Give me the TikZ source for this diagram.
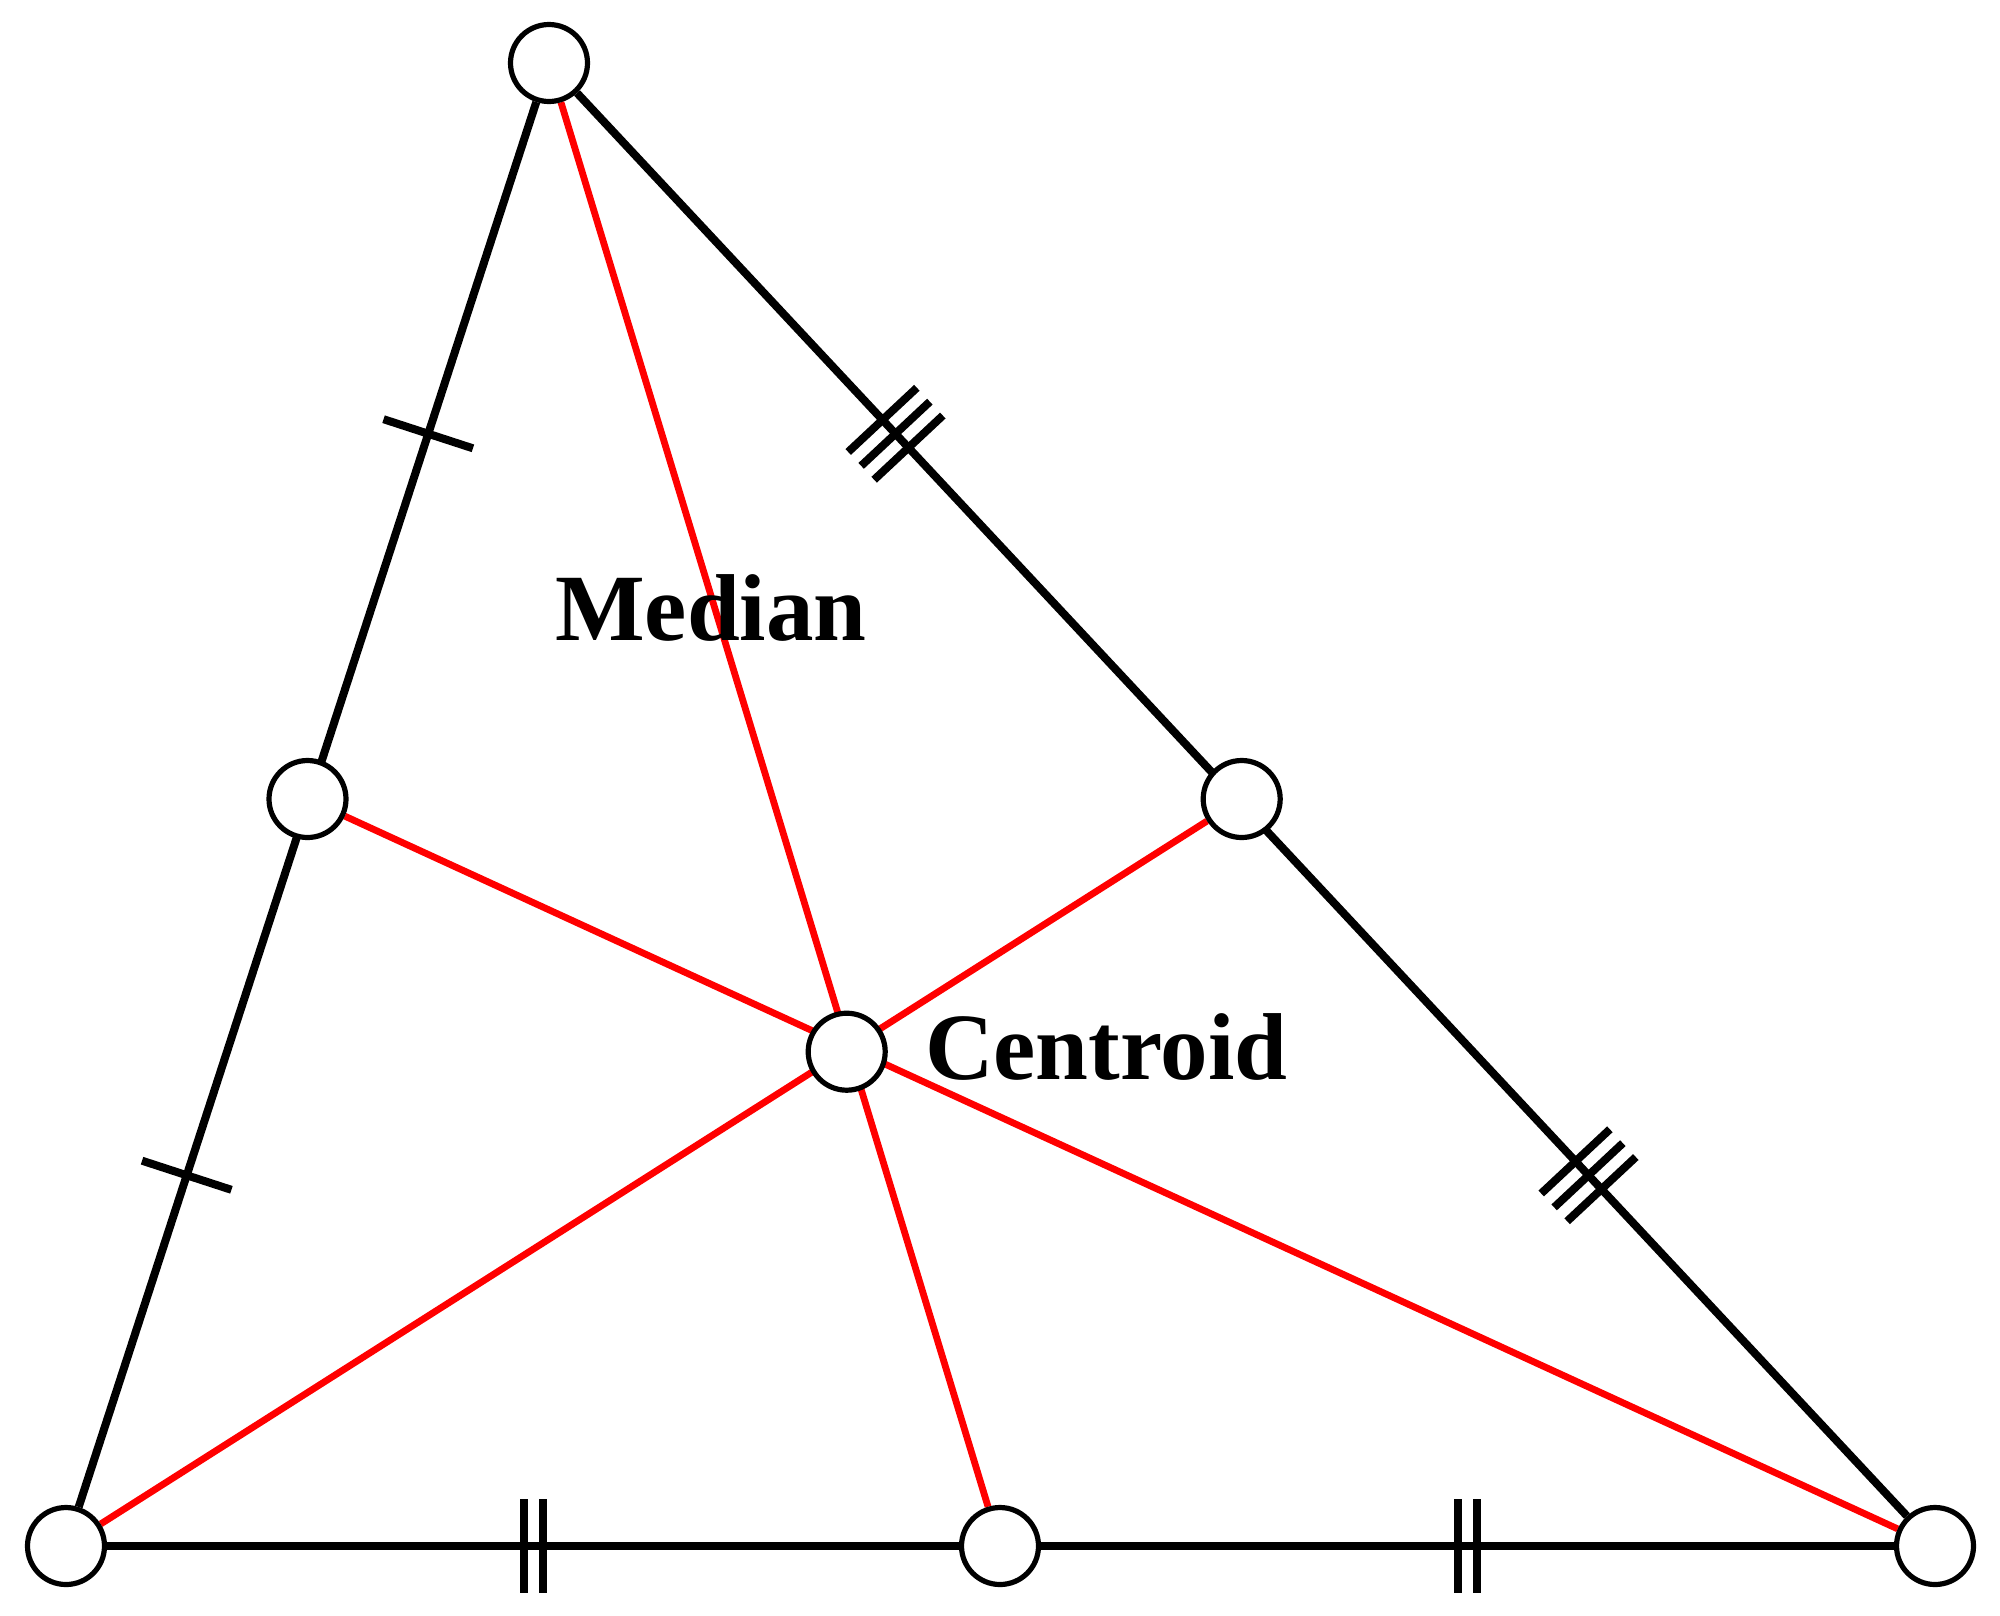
\documentclass[tikz,border=0pt]{standalone}
\usepackage{fontspec}
\setmainfont{Liberation Serif}
\usetikzlibrary{calc,backgrounds}
\begin{document}
\begin{tikzpicture}[x=1pt,y=-1pt,
  pt/.style={circle,draw=black,fill=white,line width=5.2pt,minimum size=77pt,inner sep=0pt},
  side/.style={black,line width=8pt},
  med/.style={red,line width=6.8pt},
  tickmark/.style={black,line width=8pt},
  lbl/.style={font=\fontsize{95}{114}\selectfont\bfseries,inner sep=0pt,anchor=base west}]
\useasboundingbox (0,0) rectangle (2000,1615);
\node[pt] (A) at (549,63) {};
\node[pt] (B) at (66,1546) {};
\node[pt] (C) at (1935,1546) {};
\node[pt] (mAB) at (307.5,799) {};
\node[pt] (mAC) at (1241.7,799) {};
\node[pt] (mBC) at (1000,1546) {};
\node[pt] (G) at (846.7,1051.7) {};
\begin{scope}[on background layer]
  \draw[side] (A) -- (B);
  \draw[side] (A) -- (C);
  \draw[side] (B) -- (C);
  \draw[med] (A) -- (mBC);
  \draw[med] (B) -- (mAC);
  \draw[med] (C) -- (mAB);
\end{scope}
% single ticks on AB
\coordinate (s1) at ($(B)!0.25!(A)$);
\coordinate (s2) at ($(B)!0.75!(A)$);
\draw[tickmark] ($(s1)!47pt!90:(A)$) -- ($(s1)!47pt!-90:(A)$);
\draw[tickmark] ($(s2)!47pt!90:(A)$) -- ($(s2)!47pt!-90:(A)$);
% double ticks on BC
\foreach \f in {0.25,0.75}{
  \coordinate (d) at ($(B)!\f!(C)$);
  \foreach \o in {-9.5,9.5}{
    \coordinate (dd) at ($(d)!\o pt!(C)$);
    \draw[tickmark] ($(dd)!47pt!90:(C)$) -- ($(dd)!47pt!-90:(C)$);
  }
}
% triple ticks on AC
\foreach \f in {0.25,0.75}{
  \coordinate (t) at ($(A)!\f!(C)$);
  \foreach \o in {-19,0,19}{
    \coordinate (tt) at ($(t)!\o pt!(C)$);
    \draw[tickmark] ($(tt)!47pt!90:(C)$) -- ($(tt)!47pt!-90:(C)$);
  }
}
\node[lbl] (median) at (555,640) {Median};
\node[lbl] (centroid) at (925,1079) {Centroid};
\end{tikzpicture}
\end{document}
